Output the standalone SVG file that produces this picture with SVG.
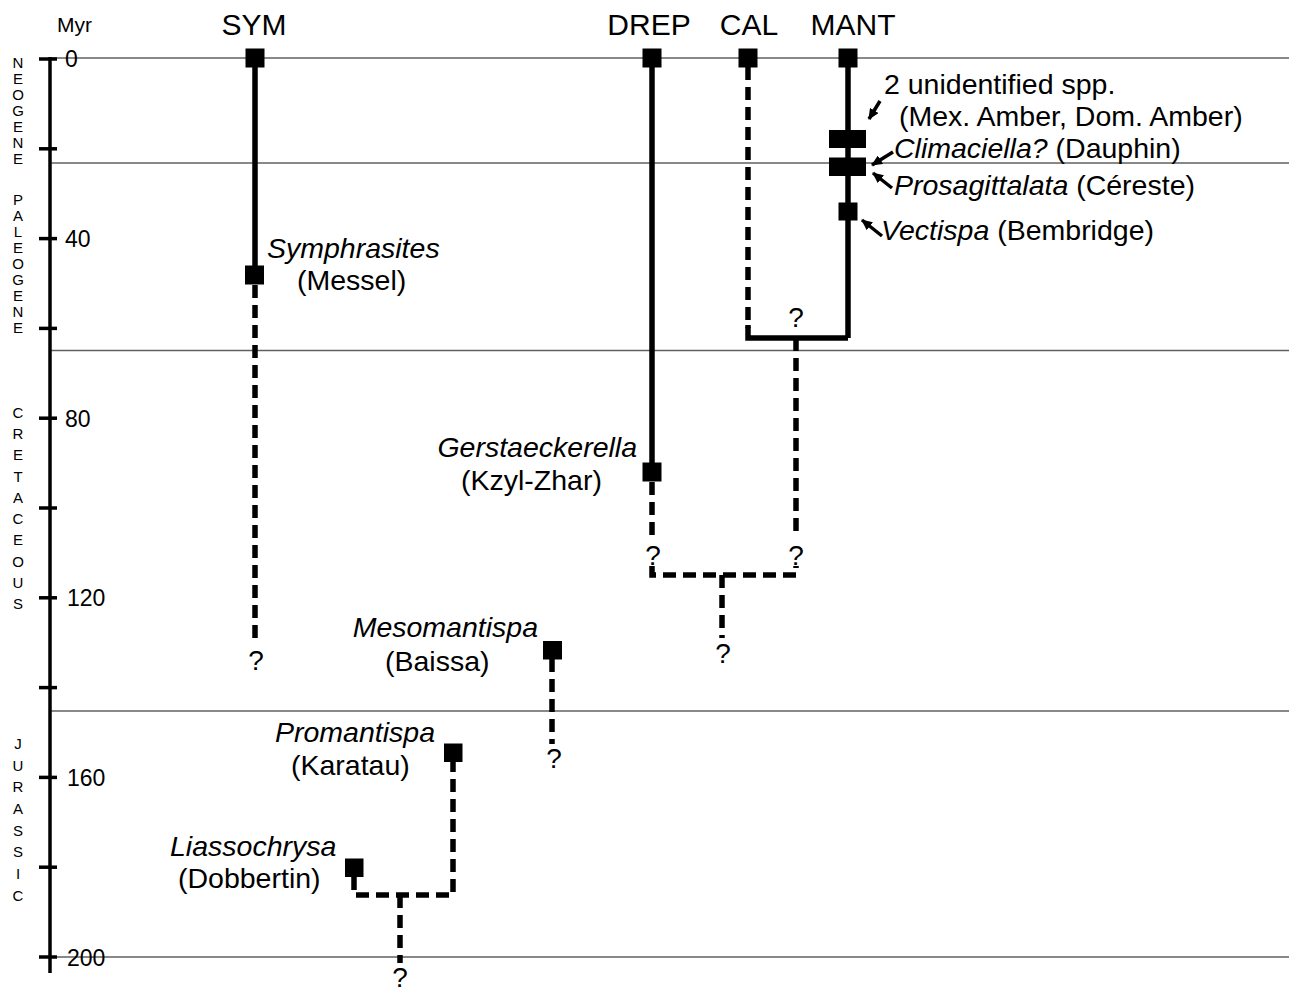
<svg xmlns="http://www.w3.org/2000/svg" width="1289" height="987" viewBox="0 0 1289 987">
<style>
text{font-family:"Liberation Sans",Arial,Helvetica,sans-serif;fill:#000}
.hd{font-size:30px;text-anchor:middle}
.lb{font-size:28.5px}
.it{font-style:italic}
.tk{font-size:23px}
.pr{font-size:15px;text-anchor:middle}
.q{font-size:28px;text-anchor:middle}
.grid{stroke:#606060;stroke-width:1.5;fill:none}
.solid{stroke:#000;stroke-width:5.5;fill:none}
.dash{stroke:#000;stroke-width:5.5;fill:none;stroke-dasharray:13 7}
.arr{stroke:#000;stroke-width:3.5;fill:none;marker-end:url(#ah)}
.sq{fill:#000}
</style>
<defs>
<marker id="ah" markerUnits="userSpaceOnUse" markerWidth="11" markerHeight="10" refX="10" refY="5" orient="auto"><path d="M0,0 L11,5 L0,10 z" fill="#000"/></marker>
</defs>
<rect width="1289" height="987" fill="#fff"/>
<g id="grid">
<line class="grid" x1="50" y1="58" x2="1289" y2="58"/>
<line class="grid" x1="50" y1="163" x2="1289" y2="163"/>
<line class="grid" x1="50" y1="350.5" x2="1289" y2="350.5"/>
<line class="grid" x1="50" y1="711" x2="1289" y2="711"/>
<line class="grid" x1="50" y1="957" x2="1289" y2="957"/>
</g>
<g id="axis">
<line x1="50" y1="57" x2="50" y2="973" stroke="#000" stroke-width="3.5"/>
<g stroke="#000" stroke-width="3.5">
<line x1="39" y1="59" x2="57" y2="59"/>
<line x1="39" y1="148.8" x2="57" y2="148.8"/>
<line x1="39" y1="238.6" x2="57" y2="238.6"/>
<line x1="39" y1="328.4" x2="57" y2="328.4"/>
<line x1="39" y1="418.2" x2="57" y2="418.2"/>
<line x1="39" y1="508" x2="57" y2="508"/>
<line x1="39" y1="597.8" x2="57" y2="597.8"/>
<line x1="39" y1="687.6" x2="57" y2="687.6"/>
<line x1="39" y1="777.4" x2="57" y2="777.4"/>
<line x1="39" y1="867.2" x2="57" y2="867.2"/>
<line x1="39" y1="957" x2="57" y2="957"/>
</g>
<text x="57" y="32" style="font-size:21px">Myr</text>
<text class="tk" x="65" y="67">0</text>
<text class="tk" x="65" y="247">40</text>
<text class="tk" x="65" y="427">80</text>
<text class="tk" x="67" y="606">120</text>
<text class="tk" x="67" y="786">160</text>
<text class="tk" x="67" y="966">200</text>
</g>
<g id="periods">
<text class="pr" x="18" y="68">N</text><text class="pr" x="18" y="84">E</text><text class="pr" x="18" y="100">O</text><text class="pr" x="18" y="116">G</text><text class="pr" x="18" y="132">E</text><text class="pr" x="18" y="148">N</text><text class="pr" x="18" y="164">E</text>
<text class="pr" x="18" y="205">P</text><text class="pr" x="18" y="221">A</text><text class="pr" x="18" y="237">L</text><text class="pr" x="18" y="253">E</text><text class="pr" x="18" y="269">O</text><text class="pr" x="18" y="285">G</text><text class="pr" x="18" y="301">E</text><text class="pr" x="18" y="317">N</text><text class="pr" x="18" y="333">E</text>
<text class="pr" x="18" y="418">C</text><text class="pr" x="18" y="439">R</text><text class="pr" x="18" y="460">E</text><text class="pr" x="18" y="482">T</text><text class="pr" x="18" y="503">A</text><text class="pr" x="18" y="524">C</text><text class="pr" x="18" y="545">E</text><text class="pr" x="18" y="567">O</text><text class="pr" x="18" y="588">U</text><text class="pr" x="18" y="609">S</text>
<text class="pr" x="18" y="749">J</text><text class="pr" x="18" y="771">U</text><text class="pr" x="18" y="792">R</text><text class="pr" x="18" y="814">A</text><text class="pr" x="18" y="836">S</text><text class="pr" x="18" y="857">S</text><text class="pr" x="18" y="879">I</text><text class="pr" x="18" y="901">C</text>
</g>
<g id="headers">
<text class="hd" x="254" y="35">SYM</text>
<text class="hd" x="649" y="35">DREP</text>
<text class="hd" x="749" y="35">CAL</text>
<text class="hd" x="853" y="35">MANT</text>
</g>
<g id="connectors">
<line class="solid" x1="255" y1="58" x2="255" y2="275"/>
<line class="dash" x1="255" y1="285" x2="255" y2="641"/>
<line class="solid" x1="652" y1="58" x2="652" y2="472"/>
<line class="dash" x1="652" y1="482" x2="652" y2="538"/>
<path class="dash" d="M652,566 V575 H796 V566"/>
<line class="dash" x1="748" y1="67" x2="748" y2="328"/>
<path class="solid" d="M748,325 V338 H848"/>
<line class="solid" x1="848" y1="58" x2="848" y2="338"/>
<line class="dash" x1="796" y1="338" x2="796" y2="538"/>
<line class="dash" x1="722" y1="575" x2="722" y2="638"/>
<line class="dash" x1="552" y1="659" x2="552" y2="744"/>
<path class="dash" d="M354,877 V895 H453 V762"/>
<line class="dash" x1="400" y1="895" x2="400" y2="963"/>
<line class="arr" x1="880" y1="101" x2="869" y2="119"/>
<line class="arr" x1="893" y1="152" x2="872" y2="165"/>
<line class="arr" x1="892" y1="188" x2="873" y2="173"/>
<line class="arr" x1="882" y1="236" x2="862" y2="220"/>
<text class="q" x="256" y="670">?</text>
<text class="q" x="653" y="565">?</text>
<text class="q" x="796" y="565">?</text>
<text class="q" x="796" y="327">?</text>
<text class="q" x="723" y="663">?</text>
<text class="q" x="554" y="768">?</text>
<text class="q" x="400" y="987">?</text>
</g>
<g id="sym-recent"><rect class="sq" x="245.5" y="48.5" width="19" height="19"/></g>
<g id="symphrasites">
<rect class="sq" x="245" y="265.5" width="19" height="19"/>
<text class="lb it" x="267" y="258">Symphrasites</text>
<text class="lb" x="297" y="290">(Messel)</text>
</g>
<g id="drep-recent"><rect class="sq" x="642.5" y="48.5" width="19" height="19"/></g>
<g id="cal-recent"><rect class="sq" x="738.5" y="48.5" width="19" height="19"/></g>
<g id="mant-recent"><rect class="sq" x="838.5" y="48.5" width="19" height="19"/></g>
<g id="gerstaeckerella">
<rect class="sq" x="642.5" y="462.5" width="19" height="19"/>
<text class="lb it" x="637" y="457" text-anchor="end">Gerstaeckerella</text>
<text class="lb" x="461" y="490">(Kzyl-Zhar)</text>
</g>
<g id="unidentified">
<rect class="sq" x="829" y="130" width="37" height="18"/>
<text class="lb" x="884" y="94">2 unidentified spp.</text>
<text class="lb" x="899" y="126">(Mex. Amber, Dom. Amber)</text>
</g>
<g id="climaciella">
<text class="lb" x="894" y="158"><tspan class="it">Climaciella?</tspan> (Dauphin)</text>
</g>
<g id="prosagittalata">
<rect class="sq" x="829" y="157.5" width="37" height="18.5"/>
<text class="lb" x="894" y="195"><tspan class="it">Prosagittalata</tspan> (Céreste)</text>
</g>
<g id="vectispa">
<rect class="sq" x="838.5" y="202.5" width="19" height="18"/>
<text class="lb" x="881" y="240"><tspan class="it">Vectispa</tspan> (Bembridge)</text>
</g>
<g id="mesomantispa">
<rect class="sq" x="543" y="641" width="19" height="18.5"/>
<text class="lb it" x="538" y="637" text-anchor="end">Mesomantispa</text>
<text class="lb" x="385" y="671">(Baissa)</text>
</g>
<g id="promantispa">
<rect class="sq" x="444" y="743.5" width="18.5" height="18.5"/>
<text class="lb it" x="275" y="742">Promantispa</text>
<text class="lb" x="291" y="775">(Karatau)</text>
</g>
<g id="liassochrysa">
<rect class="sq" x="345" y="858.5" width="18.5" height="18.5"/>
<text class="lb it" x="170" y="856">Liassochrysa</text>
<text class="lb" x="178" y="888">(Dobbertin)</text>
</g>
</svg>
